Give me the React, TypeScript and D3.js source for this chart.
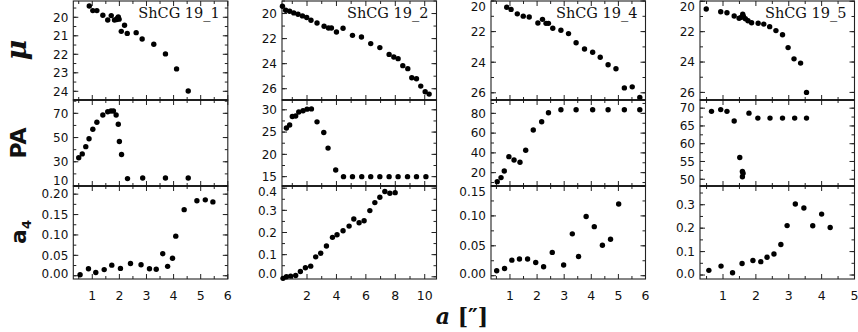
import React from "react";
import * as d3 from "d3";

// surface brightness, position angle and a4 profiles
const galaxies = ["ShCG 19_1", "ShCG 19_2", "ShCG 19_4", "ShCG 19_5"];

const mu19_1 = [[0.89,19.39],[1.02,19.64],[1.17,19.64],[1.39,19.89],[1.57,20.15],[1.7,19.91],[1.82,20.15],[1.9,20.12],[1.93,20.05],[1.96,19.98],[1.99,20.1],[2.07,20.76],[2.19,20.43],[2.29,20.87],[2.62,20.83],[2.84,21.17],[3.27,21.46],[3.7,21.98],[4.11,22.79],[4.54,23.98]];
const pa19_1 = [[0.5,33.3],[0.63,36.5],[0.76,42.5],[0.88,49],[1.02,56.9],[1.17,62.6],[1.39,68.6],[1.57,71.3],[1.69,71.9],[1.78,71.9],[1.88,68.6],[1.96,61],[2.0,46.8],[2.08,36],[2.3,16.1],[2.86,16.6],[3.7,16.6],[4.54,16.6]];
const a4_19_1 = [[0.55,0.0025],[0.86,0.017],[1.13,0.008],[1.44,0.015],[1.72,0.026],[2.04,0.018],[2.41,0.03],[2.8,0.027],[3.11,0.017],[3.36,0.016],[3.6,0.054],[3.78,0.023],[3.96,0.043],[4.08,0.097],[4.39,0.162],[4.86,0.184],[5.17,0.186],[5.45,0.181]];

const mu19_2 = [[0.33,19.42],[0.55,19.74],[0.82,19.82],[1.1,19.95],[1.39,20.06],[1.69,20.19],[1.98,20.32],[2.27,20.54],[2.68,20.75],[3.16,21.02],[3.46,21.15],[3.66,21.15],[4.0,21.47],[4.45,21.18],[5.09,21.74],[5.7,21.87],[6.33,22.4],[6.95,22.72],[7.58,23.26],[7.9,23.47],[8.19,23.6],[8.51,24.16],[8.85,24.4],[9.12,25.12],[9.44,25.2],[9.73,25.79],[10.03,26.24],[10.3,26.43]];
const pa19_2 = [[0.6,25.9],[0.82,26.6],[1.0,28.5],[1.23,28.6],[1.44,29.5],[1.73,29.8],[2.0,30.15],[2.3,30.2],[2.68,27.3],[3.14,24.9],[3.43,21.4],[3.95,16.5],[4.48,15],[5.09,15],[5.72,15],[6.33,15],[6.95,15],[7.58,15],[8.19,15],[8.83,15],[9.44,15],[10.08,15]];
const a4_19_2 = [[0.37,-0.007],[0.6,0],[0.89,0.003],[1.23,0.006],[1.55,0.024],[1.89,0.041],[2.25,0.048],[2.59,0.09],[2.93,0.106],[3.32,0.139],[3.73,0.178],[4.04,0.19],[4.45,0.208],[4.86,0.229],[5.18,0.261],[5.54,0.244],[5.88,0.253],[6.27,0.299],[6.61,0.335],[6.95,0.359],[7.29,0.385],[7.63,0.377],[7.99,0.38]];

const mu19_4 = [[0.88,20.41],[1.04,20.55],[1.27,20.84],[1.49,20.99],[1.71,21.05],[2.03,21.44],[2.2,21.2],[2.33,21.46],[2.42,21.46],[2.58,21.78],[2.88,21.91],[3.16,22.13],[3.44,22.73],[3.75,23.14],[4.05,23.35],[4.33,23.68],[4.62,24.17],[4.91,24.43],[5.22,25.68],[5.51,25.61],[5.79,26.3]];
const pa19_4 = [[0.53,10.9],[0.67,15],[0.79,21.7],[0.96,36.2],[1.15,32.8],[1.37,30.5],[1.58,42.6],[1.86,63.1],[2.17,71.5],[2.42,80.6],[2.88,83.6],[3.44,83.6],[4.05,83.6],[4.62,83.6],[5.22,83.6],[5.79,83.6]];
const a4_19_4 = [[0.51,0.0084],[0.8,0.012],[1.07,0.026],[1.35,0.028],[1.65,0.028],[1.95,0.022],[2.24,0.015],[2.56,0.039],[2.98,0.018],[3.3,0.07],[3.53,0.032],[3.81,0.099],[4.11,0.082],[4.41,0.051],[4.71,0.061],[5.01,0.12]];

const mu19_5 = [[0.49,20.51],[0.93,20.69],[1.12,20.75],[1.34,20.97],[1.49,21.12],[1.56,21.05],[1.6,20.85],[1.62,21.0],[1.68,21.15],[1.76,21.28],[1.87,21.41],[2.07,21.45],[2.24,21.5],[2.42,21.67],[2.61,21.93],[2.81,22.2],[2.98,23.05],[3.16,23.79],[3.36,24.07],[3.54,26.0]];
const pa19_5 = [[0.65,69.1],[0.93,69.6],[1.12,69.1],[1.34,66.4],[1.51,56.1],[1.59,52.2],[1.61,51.7],[1.59,50.7],[1.79,68.6],[2.06,67.2],[2.43,67.2],[2.81,67.2],[3.18,67.2],[3.54,67.2]];
const a4_19_5 = [[0.57,0.02],[0.94,0.038],[1.29,0.01],[1.58,0.049],[1.91,0.062],[2.15,0.057],[2.34,0.076],[2.55,0.09],[2.76,0.13],[2.95,0.211],[3.2,0.303],[3.46,0.286],[3.73,0.21],[4.0,0.26],[4.26,0.203]];

const xTicks1 = [1, 2, 3, 4, 5, 6];
const xTicks2 = [2, 4, 6, 8, 10];
const xTicks3 = [1, 2, 3, 4, 5, 6];
const xTicks4 = [1, 2, 3, 4, 5];

// layout
const W = 858, H = 332;
const lefts = [73.3, 282, 491, 700];
const pw = 154.5;
const rows = [[1, 100], [100, 186], [186, 279]];

const fmt2 = (v) => v.toFixed(2);
const fmt1 = (v) => v.toFixed(1);
const fmt0 = (v) => String(v);

const panels = [
  {
    name: galaxies[0], xd: [0.3, 6], xt: xTicks1, xm: 0.5,
    rows: [
      { data: mu19_1, d: [19.12, 24.47], rev: true, t: d3.range(20, 24.1, 1), m: 0.5, f: fmt0 },
      { data: pa19_1, d: [10, 81], t: [10, 30, 50, 70], m: 10, f: fmt0 },
      { data: a4_19_1, d: [-0.008, 0.22], t: [0, 0.05, 0.1, 0.15, 0.2], m: 0.025, f: fmt2 },
    ],
  },
  {
    name: galaxies[1], xd: [0.3, 10.8], xt: xTicks2, xm: 1,
    rows: [
      { data: mu19_2, d: [19.0, 26.9], rev: true, t: [20, 22, 24, 26], m: 1, f: fmt0 },
      { data: pa19_2, d: [12.9, 32.2], t: [15, 20, 25, 30], m: 2.5, f: fmt0 },
      { data: a4_19_2, d: [-0.01, 0.41], t: [0, 0.1, 0.2, 0.3, 0.4], m: 0.05, f: fmt1 },
    ],
  },
  {
    name: galaxies[2], xd: [0.3, 6], xt: xTicks3, xm: 0.5,
    rows: [
      { data: mu19_4, d: [20, 26.47], rev: true, t: [20, 22, 24, 26], m: 1, f: fmt0 },
      { data: pa19_4, d: [6.5, 93.5], t: [20, 40, 60, 80], m: 10, f: fmt0 },
      { data: a4_19_4, d: [-0.0055, 0.15], t: [0, 0.05, 0.1, 0.15], m: 0.025, f: fmt2 },
    ],
  },
  {
    name: galaxies[3], xd: [0.3, 5], xt: xTicks4, xm: 0.5,
    rows: [
      { data: mu19_5, d: [19.98, 26.5], rev: true, t: [20, 22, 24, 26], m: 1, f: fmt0 },
      { data: pa19_5, d: [48.1, 72.3], t: [50, 55, 60, 65, 70], m: 2.5, f: fmt0 },
      { data: a4_19_5, d: [-0.017, 0.38], t: [0, 0.1, 0.2, 0.3], m: 0.05, f: fmt1 },
    ],
  },
];

const tickFont = "'DejaVu Sans', sans-serif";

function minorTicks(domain, step) {
  const lo = Math.min(domain[0], domain[1]);
  const hi = Math.max(domain[0], domain[1]);
  const out = [];
  for (let v = Math.ceil(lo / step - 1e-9) * step; v <= hi + 1e-9; v += step) out.push(+v.toFixed(6));
  return out;
}

function Panel({ p, left }) {
  const right = left + pw;
  const x = d3.scaleLinear().domain(p.xd).range([left, right]);
  const xMinor = minorTicks(p.xd, p.xm);
  return (
    <g>
      {p.rows.map((r, ri) => {
        const [top, bottom] = rows[ri];
        const y = d3.scaleLinear().domain(r.d).range(r.rev ? [top, bottom] : [bottom, top]);
        const yMinor = minorTicks(r.d, r.m);
        return (
          <g key={ri}>
            <rect x={left} y={top} width={pw} height={bottom - top} fill="none" stroke="#222" strokeWidth={1.1} />
            {/* y ticks, inward on both sides */}
            {yMinor.map((v) => (
              <g key={"ym" + v} stroke="#222" strokeWidth={1}>
                <line x1={left} x2={left + 3} y1={y(v)} y2={y(v)} />
                <line x1={right} x2={right - 3} y1={y(v)} y2={y(v)} />
              </g>
            ))}
            {r.t.map((v) => (
              <g key={"yt" + v}>
                <line x1={left} x2={left + 5} y1={y(v)} y2={y(v)} stroke="#222" />
                <line x1={right} x2={right - 5} y1={y(v)} y2={y(v)} stroke="#222" />
                <text
                  x={left - 5}
                  y={Math.min(Math.max(y(v), top + 6), bottom - 5)}
                  dy="0.36em"
                  textAnchor="end"
                  fontFamily={tickFont}
                  fontSize={12}
                  fill="#111"
                >
                  {r.f(v)}
                </text>
              </g>
            ))}
            {/* x ticks on top and bottom of each row */}
            {xMinor.map((v) => {
              const major = p.xt.includes(v);
              const len = major ? 5 : 3;
              return (
                <g key={"xm" + v} stroke="#222" strokeWidth={1}>
                  <line x1={x(v)} x2={x(v)} y1={bottom} y2={bottom - len} />
                  <line x1={x(v)} x2={x(v)} y1={top} y2={top + len} />
                </g>
              );
            })}
            {r.data.map((d, i) => (
              <circle key={i} cx={x(d[0])} cy={y(d[1])} r={2.7} fill="#000" />
            ))}
          </g>
        );
      })}
      <line x1={left} x2={right} y1={rows[1][0]} y2={rows[1][0]} stroke="#111" strokeWidth={1.6} />
      <line x1={left} x2={right} y1={rows[2][0]} y2={rows[2][0]} stroke="#111" strokeWidth={1.6} />
      {p.xt.map((v) => (
        <text
          key={"xl" + v}
          x={x(v)}
          y={295}
          dy="0.36em"
          textAnchor="middle"
          fontFamily={tickFont}
          fontSize={12.5}
          fill="#111"
        >
          {v}
        </text>
      ))}
      <text
        x={right - 8}
        y={18}
        textAnchor="end"
        fontFamily="'DejaVu Serif', serif"
        fontSize={14.5}
        fill="#111"
      >
        {p.name}
      </text>
    </g>
  );
}

export default function App() {
  return (
    <svg
      width={W}
      height={H}
      viewBox={`0 0 ${W} ${H}`}
      style={{ position: "absolute", left: 0, top: 0, background: "#fff" }}
    >
      <rect width={W} height={H} fill="#fff" />
      {panels.map((p, i) => (
        <Panel key={p.name} p={p} left={lefts[i]} />
      ))}
      <text
        transform="translate(26,50) rotate(-90)"
        textAnchor="middle"
        fontFamily="'DejaVu Serif', serif"
        fontStyle="italic"
        fontWeight="bold"
        fontSize={28}
        fill="#111"
      >
        μ
      </text>
      <text
        transform="translate(26,143) rotate(-90)"
        textAnchor="middle"
        fontFamily="'DejaVu Sans', sans-serif"
        fontWeight="bold"
        fontSize={22}
        fill="#111"
      >
        PA
      </text>
      <text
        transform="translate(26,232) rotate(-90)"
        textAnchor="middle"
        fontFamily="'DejaVu Sans', sans-serif"
        fontWeight="bold"
        fontSize={22}
        fill="#111"
      >
        a<tspan fontSize={13} dy={5}>4</tspan>
      </text>
      <text
        x={462}
        y={324}
        textAnchor="middle"
        fontFamily="'DejaVu Serif', serif"
        fontWeight="bold"
        fontSize={22}
        fill="#111"
      >
        <tspan fontStyle="italic">a</tspan> [″]
      </text>
    </svg>
  );
}
